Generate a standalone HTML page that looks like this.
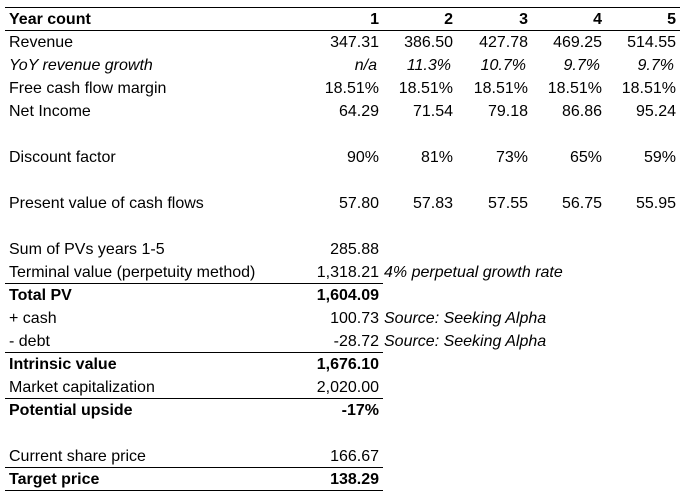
<!DOCTYPE html>
<html><head><meta charset="utf-8">
<style>
body{margin:0;background:#fff;}
#t{position:relative;width:690px;height:502px;font-family:"Liberation Sans",sans-serif;font-size:16px;color:#000;overflow:hidden;}
.c{position:absolute;white-space:nowrap;line-height:23px;height:23px;}
.b{font-weight:bold;}
.i{font-style:italic;}
.ln{position:absolute;height:1px;background:#000;}
</style></head><body>
<div id="t"></div>
<script>
const rowLabels=["Year count","Revenue","YoY revenue growth","Free cash flow margin","Net Income","","Discount factor","","Present value of cash flows"];
const years=["1","2","3","4","5"];
const revenue=["347.31","386.50","427.78","469.25","514.55"];
const growth=["n/a","11.3%","10.7%","9.7%","9.7%"];
const fcfMargin=["18.51%","18.51%","18.51%","18.51%","18.51%"];
const netIncome=["64.29","71.54","79.18","86.86","95.24"];
const discount=["90%","81%","73%","65%","59%"];
const pv=["57.80","57.83","57.55","56.75","55.95"];
const summary=[
 [10,"Sum of PVs years 1-5","285.88","",""],
 [11,"Terminal value (perpetuity method)","1,318.21","4% perpetual growth rate",""],
 [12,"Total PV","1,604.09","","b"],
 [13,"+ cash","100.73","Source: Seeking Alpha",""],
 [14,"- debt","-28.72","Source: Seeking Alpha",""],
 [15,"Intrinsic value","1,676.10","","b"],
 [16,"Market capitalization","2,020.00","",""],
 [17,"Potential upside","-17%","","b"],
 [19,"Current share price","166.67","",""],
 [20,"Target price","138.29","","b"]
];
const t=document.getElementById('t');
const colRight=[379,453,528,602,676];
const rowTop=i=>8+23*i;
function cell(txt,x,row,cls,name,right){
 const d=document.createElement('div');
 d.className='c '+cls;
 d.textContent=txt;
 d.style.top=rowTop(row)+'px';
 if(right){d.style.right=(690-x)+'px';}else{d.style.left=x+'px';}
 
 
 t.appendChild(d);
}
function line(y,x1,x2,name){
 const d=document.createElement('div');
 d.className='ln';
 d.style.top=y+'px';d.style.left=x1+'px';d.style.width=(x2-x1)+'px';
 
 
 t.appendChild(d);
}
const rows=[years,revenue,growth,fcfMargin,netIncome,null,discount,null,pv];
rowLabels.forEach((lab,i)=>{
 const cls=i===0?'b':(i===2?'i':'');
 if(lab)cell(lab,9,i,cls,'row-label-'+i,false);
 const vals=rows[i];
 if(vals)vals.forEach((v,j)=>cell(v,colRight[j]-(i===2?2:0),i,cls,'value-r'+i+'-y'+(j+1),true));
});
summary.forEach(s=>{
 const cls=s[4];
 cell(s[1],9,s[0],cls,'summary-label-'+s[0],false);
 cell(s[2],colRight[0],s[0],cls,'summary-value-'+s[0],true);
 if(s[3])cell(s[3],384,s[0],'i','note-'+s[0],false);
});
line(7,5,680,'top-border');
line(30,5,680,'header-border');
line(283,5,383,'total-pv-border');
line(352,5,383,'intrinsic-border');
line(398,5,383,'upside-border');
line(467,5,383,'target-border');
line(490,5,383,'bottom-border');
</script>
</body></html>
